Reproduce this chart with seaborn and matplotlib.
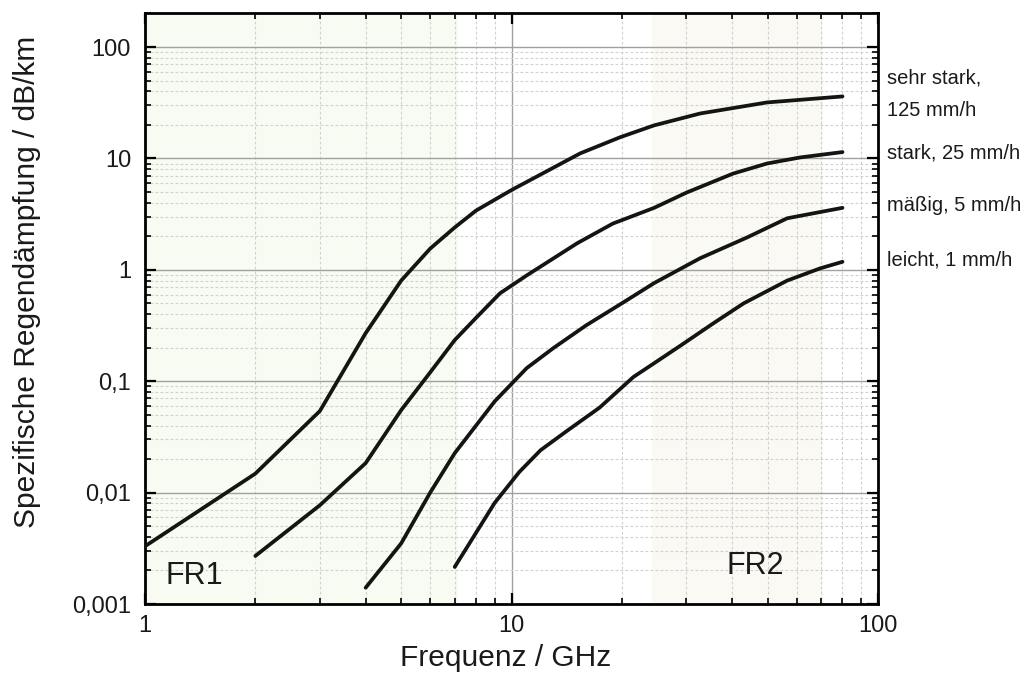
import numpy as np
import pandas as pd
import matplotlib
matplotlib.use("Agg")
import matplotlib.pyplot as plt
import seaborn as sns
from matplotlib.ticker import LogLocator, FixedLocator, FixedFormatter, NullFormatter

# --- data ---
f_125 = [1.0, 2.0, 3.0, 4.0, 5.0, 6.0, 7.0, 8.0, 10.0, 15.4, 19.8, 24.5, 32.7, 49.8, 80.0]
a_125 = [0.0033, 0.0148, 0.054, 0.27, 0.8, 1.55, 2.4, 3.4, 5.2, 11.1, 15.5, 19.8, 25.3, 31.8, 36.0]

f_25 = [2.0, 3.0, 4.0, 5.0, 6.0, 7.0, 8.0, 9.3, 11.0, 15.1, 18.9, 24.5, 30.1, 40.2, 49.8, 61.3, 80.0]
a_25 = [0.0027, 0.0077, 0.0184, 0.055, 0.12, 0.234, 0.37, 0.615, 0.89, 1.73, 2.6, 3.6, 4.95, 7.3, 9.0, 10.2, 11.4]

f_5 = [4.0, 5.0, 6.0, 7.0, 9.0, 11.0, 13.0, 16.0, 20.0, 24.5, 32.7, 43.9, 56.5, 69.5, 80.0]
a_5 = [0.0014, 0.0035, 0.010, 0.0226, 0.066, 0.131, 0.198, 0.318, 0.50, 0.76, 1.27, 1.95, 2.9, 3.3, 3.6]

f_1 = [7.0, 9.0, 10.5, 12.0, 14.2, 17.4, 21.5, 24.5, 29.0, 35.5, 43.0, 56.5, 69.5, 80.0]
a_1 = [0.00215, 0.0081, 0.0153, 0.024, 0.036, 0.058, 0.109, 0.145, 0.21, 0.33, 0.50, 0.80, 1.03, 1.18]

series_labels = ["sehr stark,\n125 mm/h", "stark, 25 mm/h", "mäßig, 5 mm/h", "leicht, 1 mm/h"]
label_y = [37.5, 11.1, 3.78, 1.22]

fr1_range = [1.0, 7.125]
fr2_range = [24.25, 71.0]

y_ticks = [0.001, 0.01, 0.1, 1, 10, 100]
y_ticklabels = ["0,001", "0,01", "0,1", "1", "10", "100"]
x_ticks = [1, 10, 100]
x_ticklabels = ["1", "10", "100"]

frames = []
for name, f, a in zip(series_labels, [f_125, f_25, f_5, f_1], [a_125, a_25, a_5, a_1]):
    frames.append(pd.DataFrame({"f": f, "a": a, "s": name}))
df = pd.concat(frames, ignore_index=True)

sns.set_theme(style="white")
plt.rcParams["font.family"] = ["Liberation Sans", "DejaVu Sans"]

fig = plt.figure(figsize=(10.27, 6.86), dpi=100)
ax = fig.add_axes([145 / 1027, 1 - 604 / 686, (878 - 145) / 1027, (604 - 13) / 686])

ax.axvspan(fr1_range[0], fr1_range[1], color="#f8fbf2", zorder=0, lw=0)
ax.axvspan(fr2_range[0], fr2_range[1], color="#faf9f3", zorder=0, lw=0)

sns.lineplot(data=df, x="f", y="a", hue="s", palette=["#121510"] * 4,
             linewidth=2.7, legend=False, ax=ax, sort=False, zorder=3)

ax.set_xscale("log")
ax.set_yscale("log")
ax.set_xlim(1, 100)
ax.set_ylim(0.001, 202)

ax.xaxis.set_major_locator(FixedLocator(x_ticks))
ax.xaxis.set_major_formatter(FixedFormatter(x_ticklabels))
ax.yaxis.set_major_locator(FixedLocator(y_ticks))
ax.yaxis.set_major_formatter(FixedFormatter(y_ticklabels))
ax.xaxis.set_minor_locator(LogLocator(base=10, subs=np.arange(2, 10)))
ax.yaxis.set_minor_locator(LogLocator(base=10, subs=np.arange(2, 10)))
ax.xaxis.set_minor_formatter(NullFormatter())
ax.yaxis.set_minor_formatter(NullFormatter())

ax.grid(True, which="major", color="#a0a0a0", linewidth=1.0, linestyle="-", zorder=1)
ax.grid(True, which="minor", color="#d0d0d0", linewidth=0.8, linestyle=(0, (2.5, 2)), zorder=1)
ax.set_axisbelow(True)

ax.tick_params(which="both", direction="in", top=True, right=True, bottom=True, left=True,
               color="black", labelsize=17, labelcolor="#1a1a1a")
ax.tick_params(which="major", length=8, width=1.6)
ax.tick_params(which="minor", length=4.5, width=1.2)
ax.tick_params(axis="y", which="major", pad=10)
ax.tick_params(axis="x", which="major", pad=8)

for sp in ax.spines.values():
    sp.set_visible(True)
    sp.set_color("black")
    sp.set_linewidth(2.0)

ax.set_xlabel("Frequenz / GHz", fontsize=21.5, color="#1a1a1a")
ax.set_ylabel("Spezifische Regendämpfung / dB/km", fontsize=21.5, color="#1a1a1a")
ax.xaxis.set_label_coords((506 - 145) / 733, (604 - 658) / 591)
ax.yaxis.set_label_coords((27 - 145) / 733, (604 - 282) / 591)
ax.xaxis.label.set_va("center")
ax.yaxis.label.set_va("center")

for lab, yv in zip(series_labels, label_y):
    ax.text(1.012, yv, lab, transform=ax.get_yaxis_transform(), fontsize=14.5,
            va="center", ha="left", linespacing=1.9, color="#1a1a1a")

ax.text(1.134, 0.00178, "FR1", fontsize=22, va="center", ha="left", color="#1a1a1a")
ax.text(38.7, 0.00219, "FR2", fontsize=22, va="center", ha="left", color="#1a1a1a")

fig.savefig("out.png", dpi=100)
